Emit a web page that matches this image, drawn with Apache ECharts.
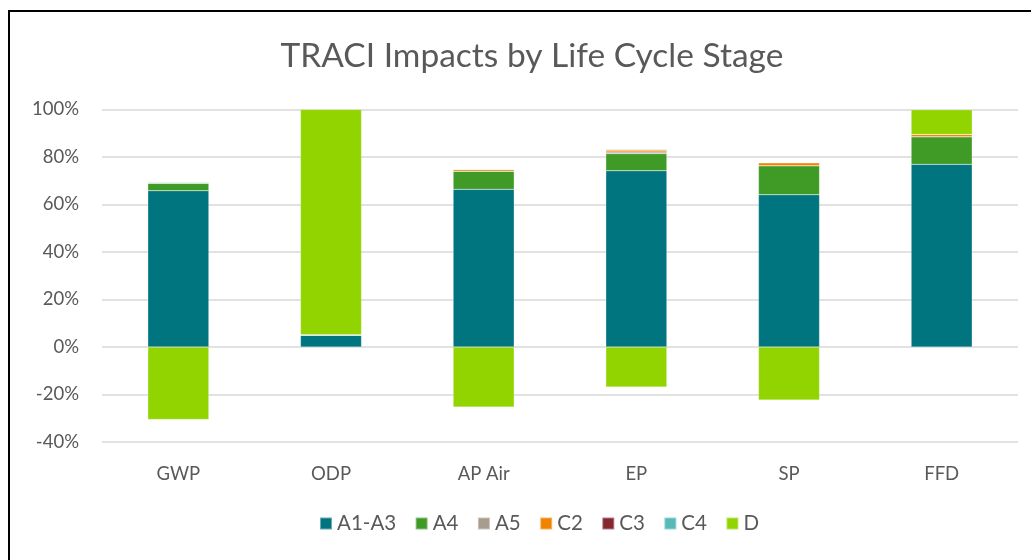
<!DOCTYPE html>
<html>
<head>
<meta charset="utf-8">
<script src="https://cdn.jsdelivr.net/npm/echarts@6/dist/echarts.min.js"></script>
<style>
html,body{margin:0;padding:0;background:#fff;}
#wrap{position:relative;width:1031px;height:560px;overflow:hidden;}
#frame{position:absolute;left:8px;top:10px;width:1040px;height:600px;border-left:2px solid #000;border-top:2px solid #000;box-sizing:border-box;}
#chart{position:absolute;left:0;top:0;width:1031px;height:560px;}
</style>
</head>
<body>
<div id="wrap"><div id="frame"></div><div id="chart"></div></div>
<script>
const categories = ['GWP', 'ODP', 'AP Air', 'EP', 'SP', 'FFD'];
const stages = ['A1-A3', 'A4', 'A5', 'C2', 'C3', 'C4', 'D'];
const a1a3 = [0.658, 0.050, 0.664, 0.742, 0.641, 0.769];
const a4   = [0.031, 0.000, 0.076, 0.072, 0.122, 0.116];
const a5   = [0.001, 0.000, 0.000, 0.007, 0.000, 0.000];
const c2   = [0.002, 0.000, 0.007, 0.008, 0.013, 0.010];
const c3   = [0.000, 0.002, 0.000, 0.000, 0.000, 0.000];
const c4   = [0.003, 0.000, 0.000, 0.004, 0.000, 0.000];
const d    = [-0.305, 0.948, -0.253, -0.168, -0.223, 0.104];
const yTicks = [-0.4, -0.2, 0, 0.2, 0.4, 0.6, 0.8, 1.0];

const seriesData = [a1a3, a4, a5, c2, c3, c4, d];
const colors = ['#00757F', '#3F9B26', '#A99B8D', '#F08400', '#862633', '#57B9B8', '#92D400'];

const chart = echarts.init(document.getElementById('chart'), null, {renderer: 'canvas'});
const font = 'Lato, "Open Sans", sans-serif';
chart.setOption({
  animation: false,
  backgroundColor: 'transparent',
  color: colors,
  title: {
    text: 'TRACI Impacts by Life Cycle Stage',
    left: 527, textAlign: 'center', top: 34,
    textStyle: {fontFamily: font, fontSize: 33.5, fontWeight: 'normal', color: '#595959'}
  },
  legend: {
    bottom: 21, left: 314,
    itemWidth: 12, itemHeight: 12, itemGap: 18.5,
    icon: 'rect',
    textStyle: {fontFamily: font, fontSize: 20.5, color: '#595959'},
    data: stages
  },
  grid: {left: 102, right: 13, top: 109.5, bottom: 118, containLabel: false},
  xAxis: {
    type: 'category', data: categories,
    axisLine: {show: false}, axisTick: {show: false},
    axisLabel: {fontFamily: font, fontSize: 18.5, color: '#595959', margin: 23}
  },
  yAxis: {
    type: 'value', min: yTicks[0], max: yTicks[yTicks.length - 1], interval: 0.2,
    axisLine: {show: false}, axisTick: {show: false},
    splitLine: {lineStyle: {color: '#D9D9D9', width: 1.5}},
    axisLabel: {
      fontFamily: font, fontSize: 18.5, color: '#595959', margin: 23,
      formatter: v => Math.round(v * 100) + '%'
    }
  },
  series: stages.map((name, i) => ({
    name, type: 'bar', stack: 'total', barWidth: '40%',
    data: seriesData[i],
    itemStyle: {color: colors[i], borderColor: 'rgba(255,255,255,0.4)', borderWidth: 0.5}
  }))
});
</script>
</body>
</html>
